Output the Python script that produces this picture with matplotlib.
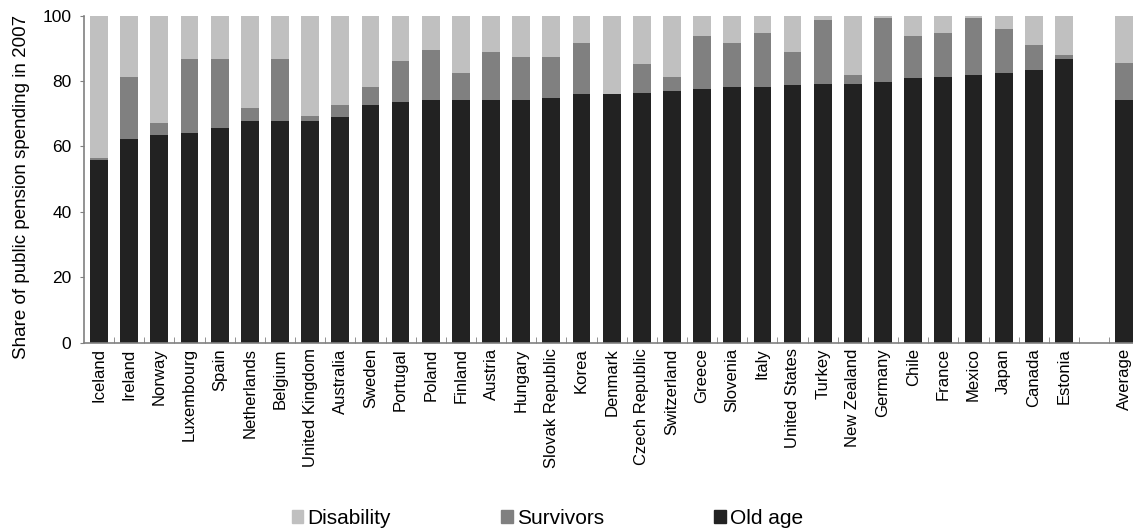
import matplotlib
matplotlib.use("Agg")
import matplotlib.pyplot as plt
import numpy as np
from matplotlib.patches import Patch

plt.rcParams['font.family'] = ['Liberation Sans', 'DejaVu Sans']

countries = ["Iceland", "Ireland", "Norway", "Luxembourg", "Spain", "Netherlands",
             "Belgium", "United Kingdom", "Australia", "Sweden", "Portugal", "Poland",
             "Finland", "Austria", "Hungary", "Slovak Republic", "Korea", "Denmark",
             "Czech Republic", "Switzerland", "Greece", "Slovenia", "Italy",
             "United States", "Turkey", "New Zealand", "Germany", "Chile", "France",
             "Mexico", "Japan", "Canada", "Estonia"]
old_age = [55.9, 62.3, 63.6, 64.1, 65.7, 67.8, 67.8, 67.8, 69.0, 72.7, 73.7, 74.3,
           74.3, 74.3, 74.3, 74.9, 75.9, 75.9, 76.4, 77.0, 77.6, 78.2, 78.2,
           78.7, 79.2, 79.2, 79.8, 80.8, 81.3, 81.9, 82.5, 83.4, 86.8]
survivors = [0.6, 19.0, 3.5, 22.7, 21.1, 3.8, 19.0, 1.6, 3.6, 5.4, 12.5, 15.2,
             8.2, 14.6, 13.1, 12.5, 15.8, 0.2, 8.8, 4.3, 16.2, 13.5, 16.6,
             10.2, 19.5, 2.7, 19.5, 13.0, 13.5, 17.4, 13.5, 7.7, 1.1]
disability = [43.5, 18.7, 32.9, 13.2, 13.2, 28.4, 13.2, 30.6, 27.4, 21.9, 13.8, 10.5,
              17.5, 11.1, 12.6, 12.6, 8.3, 23.9, 14.8, 18.7, 6.2, 8.3, 5.2,
              11.1, 1.3, 18.1, 0.7, 6.2, 5.2, 0.7, 4.0, 8.9, 12.1]

avg_label = "Average"
avg_old_age = 74.3
avg_survivors = 11.3
avg_disability = 14.4

labels = countries + ["", avg_label]
oa = np.array(old_age + [0, avg_old_age])
sv = np.array(survivors + [0, avg_survivors])
di = np.array(disability + [0, avg_disability])
x = np.arange(len(labels))

fig = plt.figure(figsize=(11.33, 5.31), dpi=100)
ax = fig.add_axes([84 / 1133, 1 - 342.7 / 531, 1055.3 / 1133, 327.2 / 531])

w = 0.59
ax.bar(x, oa, w, color="#222222", label="Old age")
ax.bar(x, sv, w, bottom=oa, color="#808080", label="Survivors")
ax.bar(x, di, w, bottom=oa + sv, color="#c0c0c0", label="Disability")

ax.set_xlim(-0.5, len(labels) - 0.5)
ax.set_ylim(0, 100)
ax.set_yticks(range(0, 101, 20))
ax.set_xticks(x)
ax.set_xticklabels(labels, rotation=90, fontsize=12)
ax.set_xticks(np.arange(len(labels) - 1) + 0.5, minor=True)
ax.tick_params(axis='x', which='major', length=0, pad=4)
ax.tick_params(axis='x', which='minor', direction='in', length=4, color="#808080")
ax.tick_params(axis='y', labelsize=12.5, length=3, color="#808080", pad=6)

for s in ['top', 'right']:
    ax.spines[s].set_visible(False)
for s in ['left', 'bottom']:
    ax.spines[s].set_color("#808080")
    ax.spines[s].set_linewidth(1.2)

fig.text(22 / 1133, 1 - 187 / 531, "Share of public pension spending in 2007",
         rotation=90, ha='center', va='center', fontsize=13.5)

handles = [Patch(color="#c0c0c0"), Patch(color="#808080"), Patch(color="#222222")]
fig.legend(handles, ["Disability", "Survivors", "Old age"], ncol=3, loc='center',
           bbox_to_anchor=(0.483, 0.024), frameon=False, fontsize=15,
           handlelength=0.55, handleheight=0.55, handletextpad=0.2,
           columnspacing=5.3)

fig.savefig("out.png", dpi=100)
